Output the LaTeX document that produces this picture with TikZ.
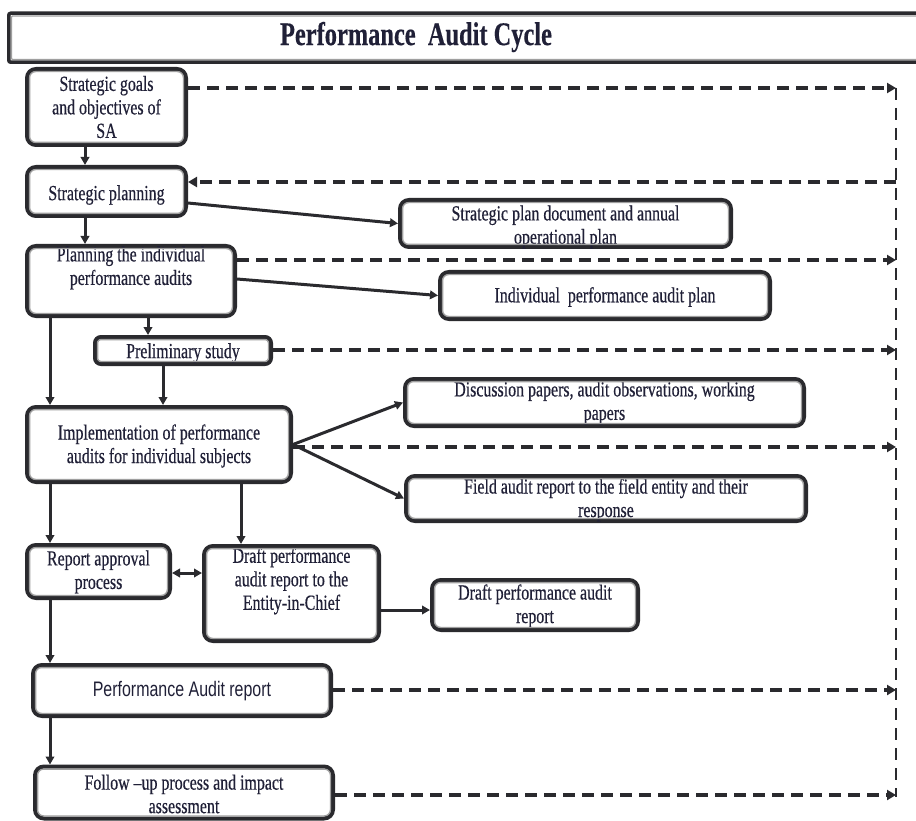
\documentclass[tikz,border=0pt]{standalone}
\usepackage{fontspec}
\setmainfont{Liberation Serif}[FakeStretch=0.74,FakeBold=0.4]
\newfontfamily\narrowsans{Liberation Sans}[FakeStretch=0.76]
\usetikzlibrary{arrows.meta,calc}
\definecolor{ink}{RGB}{42,42,46}
\definecolor{txtc}{RGB}{32,32,55}
\tikzset{
  box/.style={draw=ink, line width=4pt, fill=white, rounded corners=9pt, inner sep=0pt},
  titlebox/.style={draw=ink, line width=3.5pt, fill=white, rounded corners=2pt, inner sep=0pt},
  innerline/.style={draw=gray!75, line width=1.3pt, rounded corners=6pt},
  txt/.style={align=center, font=\fontsize{21.5}{23.5}\selectfont, text=txtc, inner sep=0pt},
  arr/.style={draw=ink, line width=3pt, -{Triangle[length=8pt,width=8.5pt]}},
  dblarr/.style={draw=ink, line width=3pt, {Triangle[length=8pt,width=8.5pt]}-{Triangle[length=8pt,width=8.5pt]}},
  dashline/.style={draw=ink, line width=2.3pt, dash pattern=on 12pt off 8pt},
  dasharr/.style={draw=ink, line width=3.5pt, dash pattern=on 12pt off 7pt, -{Triangle[length=9pt,width=10pt]}}
}
\begin{document}
\begin{tikzpicture}[x=1pt,y=-1pt]
\clip (0,0) rectangle (916,821);
\fill[white] (0,0) rectangle (916,821);

% title
\node[titlebox, minimum width=930pt, minimum height=49pt, anchor=north west] (title) at (7,11.5) {};
\draw[innerline, rounded corners=1pt] ([shift={(4.5pt,-4.5pt)}]title.north west) rectangle ([shift={(-4.5pt,4.5pt)}]title.south east);
\node[txt, font=\fontsize{33}{34}\selectfont\bfseries] (title-t) at (416,37) {Performance\ \ Audit Cycle};

% boxes
\node[box, minimum width=159pt, minimum height=76pt] (goals) at (106.5,107) {};
\node[txt] (goals-t) at (106.5,107) {Strategic goals\\and objectives of\\SA};

\node[box, minimum width=159pt, minimum height=49pt] (splan) at (106.5,191.5) {};
\node[txt] (splan-t) at (106.5,195) {Strategic planning};

\node[box, minimum width=331pt, minimum height=47pt] (spdoc) at (565.5,223.5) {};
\node[txt] (spdoc-t) at (565.5,227) {Strategic plan document and annual\\operational plan};

\node[box, minimum width=208pt, minimum height=70pt] (pind) at (131,281) {};
\node[txt] (pind-t) at (131,268) {Planning the individual\\performance audits};

\node[box, minimum width=330pt, minimum height=47pt] (iplan) at (605,295.5) {};
\node[txt] (iplan-t) at (605,297) {Individual\ \ performance audit plan};

\node[box, minimum width=176pt, minimum height=27pt, rounded corners=6pt] (prelim) at (183,350.5) {};
\node[txt] (prelim-t) at (183,353) {Preliminary study};

\node[box, minimum width=264pt, minimum height=75pt] (impl) at (159,444.5) {};
\node[txt] (impl-t) at (159,446) {Implementation of performance\\audits for individual subjects};

\node[box, minimum width=399pt, minimum height=47pt] (disc) at (604.5,402.5) {};
\node[txt] (disc-t) at (604.5,403) {Discussion papers, audit observations, working\\papers};

\node[box, minimum width=400pt, minimum height=45pt] (field) at (606,498.5) {};
\node[txt] (field-t) at (606,500) {Field audit report to the field entity and their\\response};

\node[box, minimum width=143pt, minimum height=53pt] (rap) at (98.5,571.5) {};
\node[txt] (rap-t) at (98.5,572) {Report approval\\process};

\node[box, minimum width=175pt, minimum height=95pt] (dent) at (291.5,593.5) {};
\node[txt] (dent-t) at (291.5,581) {Draft performance\\audit report to the\\Entity-in-Chief};

\node[box, minimum width=206pt, minimum height=50pt] (dpar) at (535,605) {};
\node[txt] (dpar-t) at (535,606) {Draft performance audit\\report};

\node[box, minimum width=298pt, minimum height=51pt] (par) at (182,690.5) {};
\node[txt, font=\narrowsans\fontsize{21}{23}\selectfont] (par-t) at (182,691) {Performance Audit report};

\node[box, minimum width=298pt, minimum height=52pt] (fu) at (184,792.5) {};
\node[txt] (fu-t) at (184,794) {Follow –up process and impact\\assessment};

% inner gray lines of the double borders
\foreach \n in {goals,splan,spdoc,pind,iplan,impl,disc,field,rap,dent,dpar,par,fu}
  \draw[innerline] ([shift={(4.6pt,-4.6pt)}]\n.north west) rectangle ([shift={(-4.6pt,4.6pt)}]\n.south east);
\draw[innerline, rounded corners=3pt] ([shift={(4.6pt,-4.6pt)}]prelim.north west) rectangle ([shift={(-4.6pt,4.6pt)}]prelim.south east);

% rail coordinates
\coordinate (r1) at (896,88);
\coordinate (r2) at (896,182);
\coordinate (r3) at (896,260);
\coordinate (r4) at (896,350);
\coordinate (r5) at (896,447);
\coordinate (r6) at (896,690);
\coordinate (r7) at (896,795);
\coordinate (rb) at (896,797);

% x positions of vertical connectors
\coordinate (x85) at (85,0);
\coordinate (x148) at (148,0);
\coordinate (x50) at (50,0);
\coordinate (x163) at (163,0);
\coordinate (x241) at (241,0);

% dashed rail
\draw[dashline] (r1) -- (rb);
\draw[dasharr] (goals.east |- r1) -- (r1);
\draw[dasharr] (r2) -- (splan.east |- r2);
\draw[dasharr] (pind.east |- r3) -- (r3);
\draw[dasharr] (prelim.east |- r4) -- (r4);
\draw[dasharr] (impl.east |- r5) -- (r5);
\draw[dasharr] (par.east |- r6) -- (r6);
\draw[dasharr] (fu.east |- r7) -- (r7);

% solid connectors
\draw[arr] (goals.south -| x85) -- (splan.north -| x85);
\draw[arr] (splan.south -| x85) -- (pind.north -| x85);
\draw[arr] ([yshift=-11.5pt]splan.east) -- (spdoc.west);
\draw[arr] ([yshift=2pt]pind.east) -- (iplan.west);
\draw[arr] (pind.south -| x148) -- (prelim.north -| x148);
\draw[arr] (pind.south -| x50) -- (impl.north -| x50);
\draw[arr] (prelim.south -| x163) -- (impl.north -| x163);
\draw[arr] (impl.east) -- (disc.west);
\draw[arr] (impl.east) -- (field.west);
\draw[arr] (impl.south -| x50) -- (rap.north -| x50);
\draw[arr] (impl.south -| x241) -- (dent.north -| x241);
\draw[dblarr] ([yshift=-1.5pt]rap.east) -- ([yshift=-1.5pt]rap.east -| dent.west);
\draw[arr] ([yshift=-5pt]dpar.west -| dent.east) -- ([yshift=-5pt]dpar.west);
\draw[arr] (rap.south -| x50) -- (par.north -| x50);
\draw[arr] (par.south -| x50) -- (fu.north -| x50);
\end{tikzpicture}
\end{document}
